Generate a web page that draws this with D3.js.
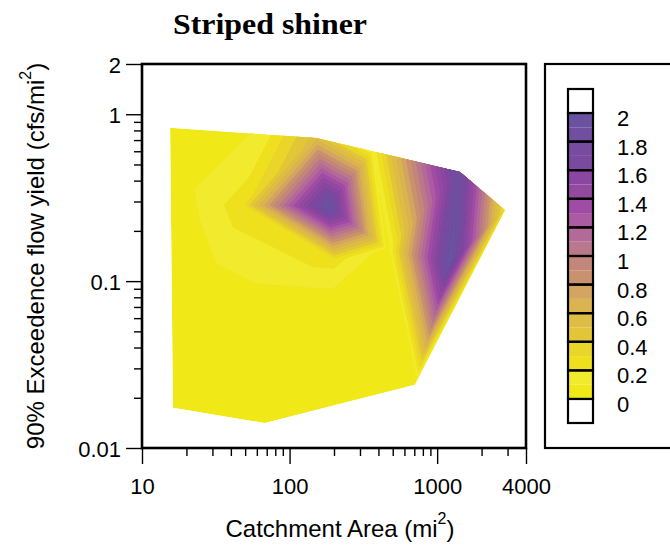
<!DOCTYPE html>
<html><head><meta charset="utf-8">
<script src="https://cdn.jsdelivr.net/npm/d3@7"></script>
<style>body{margin:0;background:#fff}svg{display:block}</style>
</head><body>
<svg id="c" width="670" height="546"></svg>
<script>
// ---- data: sample points (catchment area mi², 90% exceedence yield cfs/mi², fitted value)
const sampleArea  = [15.5, 63,   151,  367,  1426, 2877,  708,    68,     16.2,   182,   1222,  464,   48.3,  24.7,  203,   188,   24.7];
const sampleYield = [0.83, 0.76, 0.72, 0.60, 0.45, 0.267, 0.0239, 0.0141, 0.0174, 0.282, 0.130, 0.154, 0.286, 0.286, 0.134, 0.067, 0.077];
const sampleValue = [0.02, 0.11, 0.55, 0.12, 1.9,  0.25,  0.0,    0.0,    0.0,    2.0,   2.0,   0.05,  0.26,  0.12,  0.24,  0.0,   0.0];
const levels = [0,0.1,0.2,0.3,0.4,0.5,0.6,0.7,0.8,0.9,1.0,1.1,1.2,1.3,1.4,1.5,1.6,1.7,1.8,1.9];
const legendLabels = [2,1.8,1.6,1.4,1.2,1,0.8,0.6,0.4,0.2,0];
const xTickValues = [10,100,1000,4000];
const xMinorTicks = [20,30,40,50,60,70,80,90,200,300,400,500,600,700,800,900,2000,3000];
const yTickValues = [0.01,0.1,1,2];
const yMinorTicks = [0.02,0.03,0.04,0.05,0.06,0.07,0.08,0.09,0.2,0.3,0.4,0.5,0.6,0.7,0.8,0.9];
const titleText = "Striped shiner";

// ---- styles
const bandColors = ["#F1E818","#F2EA2C","#EEE01C","#EAD52A","#E2C638","#DEBC46","#D9B44F","#D3A462","#C9926F","#C4857A",
                    "#B9788B","#B46A99","#AC5AA2","#A04BA5","#9249A0","#8A46A0","#7C49A0","#764BA0","#704EA0","#6A52A1"];
const FONT = "'Liberation Sans', Arial, Helvetica, sans-serif";

const svg = d3.select("#c");
const X0 = 142, X1 = 526, Y0 = 64, Y1 = 448;
const x = d3.scaleLog().domain([10,4000]).range([X0,X1]);
const y = d3.scaleLog().domain([0.01,2]).range([Y1,Y0]);

// ---- contour field: linear interpolation on triangulation of sample points
const pts = sampleArea.map((a,i)=>[x(a), y(sampleYield[i])]);
const del = d3.Delaunay.from(pts);
const tris = [];
for (let t=0; t<del.triangles.length/3; t++){
  const a=del.triangles[3*t], b=del.triangles[3*t+1], c=del.triangles[3*t+2];
  const [ax,ay]=pts[a],[bx,by]=pts[b],[cx,cy]=pts[c];
  const det=(by-cy)*(ax-cx)+(cx-bx)*(ay-cy);
  tris.push({ax,ay,bx,by,cx,cy,det,va:sampleValue[a],vb:sampleValue[b],vc:sampleValue[c]});
}
const W = X1-X0, H = Y1-Y0;
const grid = new Float64Array(W*H);
for (let j=0;j<H;j++){
  const py = Y0+j+0.5;
  for (let i=0;i<W;i++){
    const px = X0+i+0.5;
    let best=-Infinity, val=0;
    for (const T of tris){
      const l1=((T.by-T.cy)*(px-T.cx)+(T.cx-T.bx)*(py-T.cy))/T.det;
      const l2=((T.cy-T.ay)*(px-T.cx)+(T.ax-T.cx)*(py-T.cy))/T.det;
      const l3=1-l1-l2;
      const m=Math.min(l1,l2,l3);
      if (m>best){best=m; val=l1*T.va+l2*T.vb+l3*T.vc;}
    }
    grid[j*W+i]=val;
  }
}
const hull = del.hullPolygon();
svg.append("clipPath").attr("id","hullclip").append("path").attr("d","M"+hull.join("L")+"Z");
const g = svg.append("g").attr("clip-path","url(#hullclip)");
g.append("path").attr("d","M"+hull.join("L")+"Z").attr("fill",bandColors[0]);
const contours = d3.contours().size([W,H]).thresholds(levels.slice(1))(grid);
g.selectAll("path.band").data(contours).join("path").attr("class","band")
  .attr("transform",`translate(${X0},${Y0})`)
  .attr("d",d3.geoPath())
  .attr("fill",d=>bandColors[levels.indexOf(d.value)])
  .attr("stroke",d=>bandColors[levels.indexOf(d.value)]).attr("stroke-width",0.4);

// ---- frame & axes
svg.append("rect").attr("x",X0).attr("y",Y0).attr("width",W).attr("height",H)
  .attr("fill","none").attr("stroke","#000").attr("stroke-width",2.6);

function styleAxis(sel){
  sel.select(".domain").remove();
  sel.selectAll("line").attr("stroke","#000").attr("stroke-width",1.4);
  sel.selectAll("text").attr("font-family",FONT).attr("font-size",22).attr("fill","#000");
}
svg.append("g").attr("transform",`translate(0,${Y1})`)
  .call(d3.axisBottom(x).tickValues(xMinorTicks).tickSize(8).tickFormat("")).call(styleAxis);
svg.append("g").attr("transform",`translate(0,${Y1})`)
  .call(d3.axisBottom(x).tickValues(xTickValues).tickSize(16).tickPadding(14).tickFormat(d3.format("d"))).call(styleAxis);
svg.append("g").attr("transform",`translate(${X0},0)`)
  .call(d3.axisLeft(y).tickValues(yMinorTicks).tickSize(8).tickFormat("")).call(styleAxis);
const yax = svg.append("g").attr("transform",`translate(${X0},0)`)
  .call(d3.axisLeft(y).tickValues(yTickValues).tickSize(16).tickPadding(5).tickFormat(d=>String(d))).call(styleAxis);
yax.selectAll("text").attr("dy","0.38em");

// ---- titles
svg.append("text").attr("x",270).attr("y",34).attr("text-anchor","middle")
  .attr("font-family","'Liberation Serif','Times New Roman',serif").attr("font-weight","bold")
  .attr("font-size",30).attr("textLength",194).attr("lengthAdjust","spacingAndGlyphs").text(titleText);

const xl = svg.append("text").attr("x",340).attr("y",537).attr("text-anchor","middle")
  .attr("font-family",FONT).attr("font-size",24);
xl.append("tspan").text("Catchment Area (mi");
xl.append("tspan").attr("dy",-13).attr("font-size",16).text("2");
xl.append("tspan").attr("dy",13).text(")");

const yl = svg.append("text").attr("transform","translate(44,256) rotate(-90)").attr("text-anchor","middle")
  .attr("font-family",FONT).attr("font-size",24);
yl.append("tspan").text("90% Exceedence flow yield (cfs/mi");
yl.append("tspan").attr("dy",-13).attr("font-size",16).text("2");
yl.append("tspan").attr("dy",13).text(")");

// ---- legend
const LX = 568, LW = 25;
const ly = d3.scaleLinear().domain([0,2]).range([399,113]);
svg.append("rect").attr("x",545).attr("y",64).attr("width",140).attr("height",384)
  .attr("fill","#fff").attr("stroke","#000").attr("stroke-width",2.2);
const lg = svg.append("g");
lg.selectAll("rect.half").data(levels).join("rect").attr("class","half")
  .attr("x",LX).attr("width",LW).attr("y",d=>ly(d+0.1)).attr("height",d=>ly(d)-ly(d+0.1))
  .attr("fill",(d,i)=>bandColors[i]);
const major = legendLabels.slice(0,-1).map(v=>+v);
lg.selectAll("rect.sw").data(major).join("rect").attr("class","sw")
  .attr("x",LX).attr("width",LW).attr("y",d=>ly(d)).attr("height",d=>ly(d-0.2)-ly(d))
  .attr("fill","none").attr("stroke","#000").attr("stroke-width",2.2);
lg.append("rect").attr("x",LX).attr("width",LW).attr("y",ly(2)-24).attr("height",24)
  .attr("fill","#fff").attr("stroke","#000").attr("stroke-width",2.2);
lg.append("rect").attr("x",LX).attr("width",LW).attr("y",ly(0)).attr("height",24)
  .attr("fill","#fff").attr("stroke","#000").attr("stroke-width",2.2);
lg.selectAll("text").data(legendLabels).join("text")
  .attr("x",617).attr("y",d=>ly(d)+5).attr("dy","0.36em")
  .attr("font-family",FONT).attr("font-size",22).text(d=>String(d));
</script>
</body></html>
